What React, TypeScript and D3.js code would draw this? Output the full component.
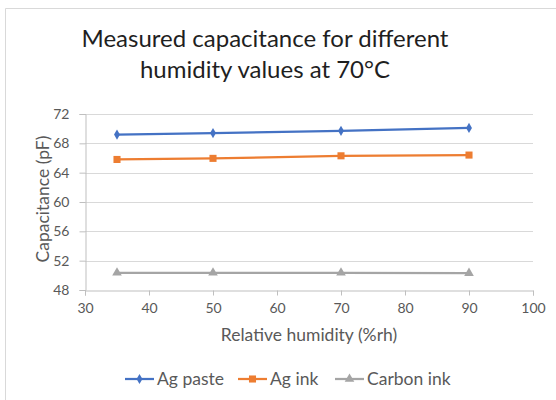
import React, { useEffect, useRef } from "react";
import * as d3 from "d3";

const humidity = [35, 50, 70, 90];
const agPaste = [69.2, 69.4, 69.7, 70.1];
const agInk = [65.8, 65.95, 66.3, 66.4];
const carbonInk = [50.35, 50.35, 50.35, 50.3];
const xTicks = [30, 40, 50, 60, 70, 80, 90, 100];
const yTicks = [48, 52, 56, 60, 64, 68, 72];
const seriesNames = ["Ag paste", "Ag ink", "Carbon ink"];
const colors = ["#4472C4", "#ED7D31", "#A5A5A5"];

const font = "Lato, 'Open Sans', sans-serif";

const App = () => {
  const ref = useRef<SVGSVGElement>(null);

  useEffect(() => {
    const svg = d3.select(ref.current);
    svg.selectAll("*").remove();

    const width = 556;
    const height = 400;
    const margin = { top: 114, right: 23, bottom: 110, left: 85 };

    svg.append("rect").attr("x", 0).attr("y", 0).attr("width", width).attr("height", height).attr("fill", "#fff");
    // chart area border
    svg.append("path").attr("d", "M5.5,400 V8.5 H556").attr("fill", "none").attr("stroke", "#d9d9d9");

    const x = d3.scaleLinear().domain([30, 100]).range([margin.left, width - margin.right]);
    const y = d3.scaleLinear().domain([48, 72]).range([height - margin.bottom, margin.top]);

    // title
    const title = svg.append("text").attr("text-anchor", "middle").attr("font-family", font)
      .attr("font-size", 24).attr("fill", "#1f1f1f");
    title.append("tspan").attr("x", 265).attr("y", 47).text("Measured capacitance for different");
    title.append("tspan").attr("x", 265).attr("y", 78).text("humidity values at 70°C");

    // gridlines
    svg.append("g").selectAll("line").data(yTicks.slice(1)).enter().append("line")
      .attr("x1", x(30)).attr("x2", x(100))
      .attr("y1", (d) => Math.round(y(d)) + 0.5).attr("y2", (d) => Math.round(y(d)) + 0.5)
      .attr("stroke", "#d9d9d9").attr("stroke-width", 1);

    // axes
    const xAxis = svg.append("g").attr("transform", `translate(0,${Math.round(y(48)) + 0.5})`)
      .call(d3.axisBottom(x).tickValues(xTicks).tickSize(5).tickPadding(8));
    const yAxis = svg.append("g").attr("transform", `translate(${Math.round(x(30)) + 0.5},0)`)
      .call(d3.axisLeft(y).tickValues(yTicks).tickSize(6).tickPadding(10));
    [xAxis, yAxis].forEach((ax) => {
      ax.selectAll("path,line").attr("stroke", "#bfbfbf");
      ax.selectAll("text").attr("fill", "#595959").attr("font-family", font).attr("font-size", 14);
    });

    // axis titles
    svg.append("text").attr("x", 309).attr("y", 341).attr("text-anchor", "middle")
      .attr("font-family", font).attr("font-size", 17.5).attr("fill", "#595959").text("Relative humidity (%rh)");
    svg.append("text").attr("transform", `translate(49,199) rotate(-90)`)
      .attr("text-anchor", "middle").attr("font-family", font).attr("font-size", 17.5).attr("fill", "#595959")
      .text("Capacitance (pF)");

    const allSeries = [agPaste, agInk, carbonInk];
    const symbols = [d3.symbolDiamond, d3.symbolSquare, d3.symbolTriangle];
    const sizes = [30, 50, 40];
    const line = d3.line<number>().x((d, i) => x(humidity[i])).y((d) => y(d));

    allSeries.forEach((vals, si) => {
      svg.append("path").datum(vals).attr("d", line).attr("fill", "none")
        .attr("stroke", colors[si]).attr("stroke-width", 2.25);
      svg.append("g").selectAll("path").data(vals).enter().append("path")
        .attr("d", d3.symbol().type(symbols[si]).size(sizes[si])())
        .attr("transform", (d, i) => `translate(${x(humidity[i])},${y(d)})`)
        .attr("fill", colors[si]);
    });

    // legend
    const legendX = [125, 238, 335];
    const legend = svg.append("g");
    seriesNames.forEach((name, si) => {
      const g = legend.append("g").attr("transform", `translate(${legendX[si]},379)`);
      g.append("line").attr("x1", 0).attr("x2", 29).attr("stroke", colors[si]).attr("stroke-width", 2.25);
      g.append("path").attr("d", d3.symbol().type(symbols[si]).size(sizes[si])())
        .attr("transform", "translate(14.5,0)").attr("fill", colors[si]);
      g.append("text").attr("x", 32).attr("y", 6).attr("font-family", font)
        .attr("font-size", 17.5).attr("fill", "#595959").text(name);
    });
  }, []);

  return (
    <svg ref={ref} width={556} height={400} style={{ position: "absolute", left: 0, top: 0 }} />
  );
};

export default App;
